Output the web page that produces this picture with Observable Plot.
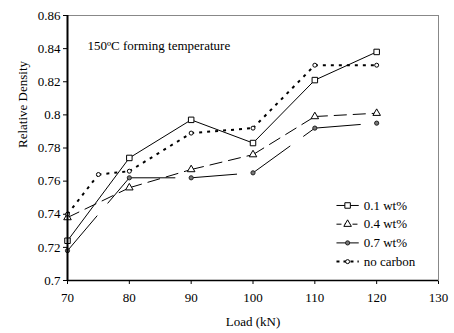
<!DOCTYPE html>
<html>
<head>
<meta charset="utf-8">
<script src="https://cdn.jsdelivr.net/npm/d3@7"></script>
<script src="https://cdn.jsdelivr.net/npm/@observablehq/plot@0.6"></script>
<style>
  html, body { margin: 0; padding: 0; background: #fff; }
  #chart { width: 454px; height: 333px; }
</style>
</head>
<body>
<div id="chart"></div>
<script>
// ---- data ----
const loads = [70, 80, 90, 100, 110, 120];
const wt01 = [0.724, 0.774, 0.797, 0.783, 0.821, 0.838];
const wt04 = [0.738, 0.756, 0.767, 0.776, 0.799, 0.801];
const wt07 = [0.718, 0.762, 0.762, 0.765, 0.792, 0.795];
const noCarbonLoads = [70, 75, 80, 90, 100, 110, 120];
const noCarbon = [0.740, 0.764, 0.766, 0.789, 0.792, 0.830, 0.830];
const xTicks = [70, 80, 90, 100, 110, 120, 130];
const yTicks = [0.7, 0.72, 0.74, 0.76, 0.78, 0.8, 0.82, 0.84, 0.86];
const legendLabels = ["0.1 wt%", "0.4 wt%", "0.7 wt%", "no carbon"];
const titleText = "150ºC forming temperature";
const xLabel = "Load (kN)";
const yLabel = "Relative Density";

const FONT = "Liberation Serif";

// ---- helpers ----
const pts = (xs, ys) => xs.map((x, i) => ({x, y: ys[i]}));
const segs = (xs, ys) => xs.slice(1).map((x, i) => ({x1: xs[i], y1: ys[i], x2: x, y2: ys[i + 1]}));

const styles = [
  {dash: null, width: 1, symbol: "square", r: 3.1, fill: "white", stroke: "black"},
  {dash: "13,6", width: 1, symbol: "triangle", r: 2.8, fill: "white", stroke: "black"},
  {dash: "46,16", width: 1, symbol: "circle", r: 2.1, fill: "#777", stroke: "#222"},
  {dash: "3,5", width: 2, symbol: "circle", r: 2.0, fill: "white", stroke: "black"}
];
const series = [
  [loads, wt01], [loads, wt04], [loads, wt07], [noCarbonLoads, noCarbon]
];

const marks = [];
marks.push(Plot.frame({stroke: "#888", strokeWidth: 1}));
series.forEach(([xs, ys], k) => {
  const s = styles[k];
  marks.push(Plot.link(segs(xs, ys), {
    x1: "x1", y1: "y1", x2: "x2", y2: "y2",
    stroke: "black", strokeWidth: s.width, strokeDasharray: s.dash || undefined
  }));
});
series.forEach(([xs, ys], k) => {
  const s = styles[k];
  marks.push(Plot.dot(pts(xs, ys), {
    x: "x", y: "y", symbol: () => s.symbol, r: s.r,
    fill: s.fill, stroke: s.stroke, strokeWidth: 1
  }));
});
marks.push(Plot.ruleX([70], {stroke: "black", strokeWidth: 2}));
marks.push(Plot.ruleY([0.7], {stroke: "black", strokeWidth: 1.5}));

// title inside plot
marks.push(Plot.text([titleText], {
  frameAnchor: "top-left", dx: 20, dy: 25, textAnchor: "start",
  fontSize: 13, fontFamily: FONT, fill: "black"
}));

// axis labels
marks.push(Plot.text([xLabel], {frameAnchor: "bottom", dy: 45, fontSize: 13, fontFamily: FONT, fill: "black"}));
marks.push(Plot.text([yLabel], {frameAnchor: "left", dx: -45, rotate: -90, fontSize: 13, fontFamily: FONT, fill: "black"}));

// legend (layout positions inside the frame)
const legY = i => 0.7453 - i * 0.0113;
const legendRows = legendLabels.map((label, i) => ({label, i, y: legY(i)}));
legendRows.forEach((row, i) => {
  const s = styles[i];
  marks.push(Plot.link([row], {
    x1: () => 113.5, x2: () => 117.1, y1: "y", y2: "y",
    stroke: "black", strokeWidth: s.width,
    strokeDasharray: i === 1 ? "5,3" : (i === 3 ? "3,4" : undefined)
  }));
  marks.push(Plot.dot([row], {
    x: () => 115.3, y: "y", symbol: () => s.symbol, r: s.r,
    fill: s.fill, stroke: s.stroke, strokeWidth: 1
  }));
});
marks.push(Plot.text(legendRows, {
  x: () => 117.9, y: "y", text: "label", textAnchor: "start",
  fontSize: 13, fontFamily: FONT, fill: "black"
}));

const chart = Plot.plot({
  width: 454,
  height: 333,
  marginLeft: 67,
  marginRight: 16,
  marginTop: 15,
  marginBottom: 53,
  style: {fontFamily: FONT, fontSize: "13px", background: "white", color: "black"},
  x: {
    domain: [70, 130], ticks: xTicks, tickSize: 4, tickPadding: 8, label: null
  },
  y: {
    domain: [0.7, 0.86], ticks: yTicks, tickSize: 4, tickPadding: 3,
    tickFormat: d => String(+d.toFixed(2)), label: null
  },
  marks
});
d3.select(chart).attr("font-family", FONT).style("font-family", `'${FONT}'`);
d3.select(chart).selectAll("g, text").attr("font-family", FONT).style("font-family", `'${FONT}'`);
document.getElementById("chart").appendChild(chart);
</script>
</body>
</html>
